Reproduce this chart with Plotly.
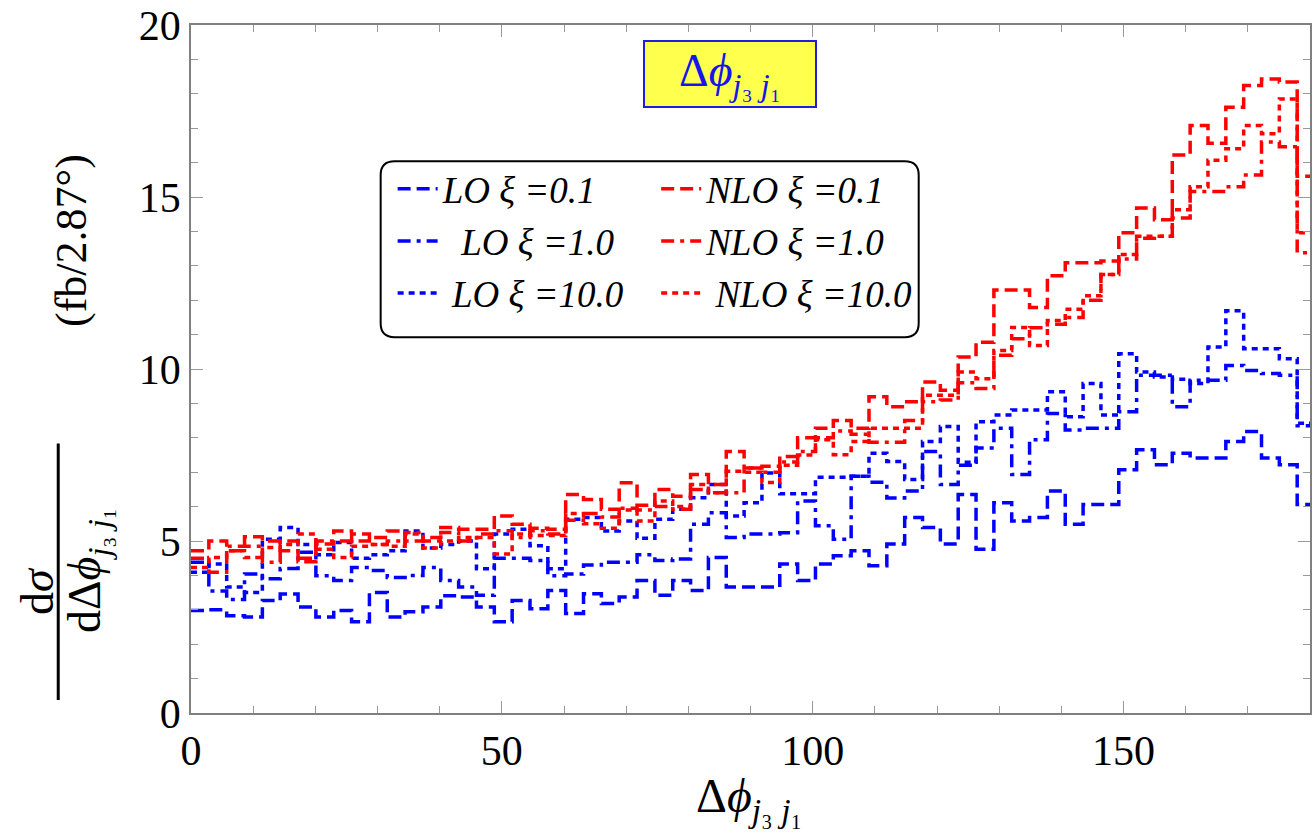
import re
import numpy as np
import plotly.graph_objects as go

# ---------------- data ----------------
BIN_WIDTH = 2.87  # degrees
X_MAX = 180.0

lo_xi01 = [2.98, 3.00, 2.83, 2.79, 3.27, 3.46, 3.08, 2.79, 2.98, 2.65,
           3.50, 2.79, 2.94, 3.08, 3.41, 3.37, 3.08, 2.65, 3.27, 3.03,
           3.56, 2.89, 3.47, 3.18, 3.37, 3.85, 3.42, 3.85, 3.56, 4.52,
           3.66, 3.66, 3.66, 4.33, 3.85, 4.33, 4.57, 4.72, 4.28, 4.91,
           5.68, 5.39, 4.91, 6.35, 4.76, 6.11, 5.58, 5.68, 6.45, 5.49,
           6.06, 6.06, 7.07, 7.65, 7.22, 7.55, 7.41, 7.41, 7.89, 8.18,
           7.41, 7.22, 6.06]

lo_xi1 = [4.38, 3.55, 3.30, 4.04, 3.90, 4.20, 4.67, 3.99, 3.85, 4.23,
          4.14, 3.94, 4.00, 4.23, 3.85, 3.66, 3.42, 4.50, 4.50, 4.43,
          3.99, 4.04, 4.30, 4.38, 4.38, 4.60, 4.43, 4.48, 5.49, 5.82,
          5.10, 5.20, 5.20, 5.24, 6.16, 5.44, 5.05, 6.88, 6.71, 6.25,
          6.45, 7.60, 6.64, 7.20, 7.70, 8.28, 6.93, 7.94, 8.71, 8.23,
          8.28, 8.28, 8.76, 9.82, 9.82, 8.90, 9.67, 9.67, 10.10, 9.96,
          9.87, 9.82, 8.35]

lo_xi10 = [4.09, 4.33, 3.66, 3.50, 5.05, 5.39, 4.90, 4.60, 4.96, 4.50,
           4.60, 4.72, 5.29, 4.80, 4.90, 5.00, 4.19, 5.20, 5.34, 4.86,
           4.19, 5.63, 5.68, 5.29, 5.58, 5.08, 5.63, 5.92, 6.26, 6.64,
           5.73, 6.11, 6.98, 6.37, 6.37, 6.85, 6.85, 6.88, 7.55, 7.31,
           6.79, 7.89, 8.33, 7.29, 8.47, 8.66, 8.81, 8.81, 9.34, 8.61,
           9.58, 8.66, 10.44, 9.91, 9.77, 9.70, 9.58, 10.64, 11.69, 10.59,
           10.59, 10.30, 8.42]

nlo_xi01 = [4.72, 5.00, 4.72, 5.12, 5.00, 4.72, 4.40, 4.91, 5.29, 5.00,
            5.10, 5.29, 5.00, 5.10, 5.39, 5.34, 5.34, 5.73, 5.49, 5.37,
            5.34, 6.35, 6.21, 5.92, 6.69, 6.04, 6.50, 6.30, 6.93, 6.64,
            7.60, 7.12, 7.17, 7.46, 8.00, 8.28, 8.50, 8.28, 9.19, 8.90,
            9.05, 9.62, 9.38, 10.35, 10.78, 12.30, 12.30, 11.79, 12.71, 13.09,
            13.09, 13.14, 13.96, 14.68, 14.34, 16.22, 17.08, 16.56, 17.61, 18.24,
            18.43, 18.34, 15.60]

nlo_xi1 = [4.50, 4.09, 4.85, 4.85, 4.38, 5.00, 4.50, 5.00, 5.00, 5.20,
           4.90, 5.00, 5.25, 5.00, 5.25, 5.00, 5.20, 5.30, 5.10, 5.30,
           5.20, 5.60, 5.80, 5.70, 5.95, 5.90, 6.00, 5.92, 6.50, 6.40,
           6.40, 7.12, 7.00, 7.30, 7.60, 8.00, 8.20, 8.10, 7.87, 7.87,
           8.50, 9.05, 9.10, 9.60, 9.43, 10.40, 10.88, 11.20, 11.30, 11.50,
           12.00, 12.75, 13.20, 13.80, 13.86, 14.39, 15.16, 15.16, 15.30, 15.64,
           16.60, 16.46, 13.38]

nlo_xi10 = [4.23, 4.52, 4.72, 4.52, 4.81, 4.90, 5.20, 4.76, 4.52, 4.85,
            4.90, 4.85, 5.20, 4.80, 5.00, 5.10, 5.10, 4.62, 5.20, 5.16,
            5.16, 5.80, 5.50, 5.37, 5.90, 5.58, 6.16, 6.00, 6.64, 6.40,
            7.03, 7.00, 6.70, 7.20, 7.50, 7.94, 7.51, 7.89, 8.28, 8.28,
            8.28, 9.24, 9.24, 9.91, 9.72, 10.54, 11.21, 10.68, 11.41, 11.74,
            12.13, 12.75, 13.33, 13.86, 13.86, 14.63, 15.30, 16.07, 16.40, 17.08,
            16.84, 17.85, 13.96]

x_ticks = [0, 50, 100, 150]
y_ticks = [0, 5, 10, 15, 20]

# ---------------- figure ----------------
W, H = 1315, 840
ML, MR, MT, MB = 191, 3, 21, 127
PW, PH = W - ML - MR, H - MT - MB


def px(xp):
    return (xp - ML) / PW


def py(yp):
    return (H - MB - yp) / PH


BLUE = "rgb(0,0,255)"
RED = "rgb(255,0,0)"
DASH = "13px,6px"
DASHDOT = "13px,6px,4px,6px"
DOT = "6px,5px"

series = [
    ("<i>LO ξ =0.1</i>", lo_xi01, BLUE, DASH, "legend"),
    ("<i>  LO ξ =1.0</i>", lo_xi1, BLUE, DASHDOT, "legend"),
    ("<i> LO ξ =10.0</i>", lo_xi10, BLUE, DOT, "legend"),
    ("<i>NLO ξ =0.1</i>", nlo_xi01, RED, DASH, "legend2"),
    ("<i>NLO ξ =1.0</i>", nlo_xi1, RED, DASHDOT, "legend2"),
    ("<i> NLO ξ =10.0</i>", nlo_xi10, RED, DOT, "legend2"),
]

fig = go.Figure()
for i, (name, vals, col, dash, lg) in enumerate(series):
    n = len(vals)
    edges = np.arange(n) * BIN_WIDTH
    xs = list(edges) + [X_MAX]
    ys = list(vals) + [vals[-1]]
    fig.add_trace(go.Scatter(
        x=xs, y=ys, mode="lines", name=name,
        line=dict(color=col, width=3.5, dash=dash, shape="hv"),
        legend=lg, legendgroup=f"g{i}",
    ))

serif = "Liberation Serif, Times New Roman, serif"

axis_common = dict(
    showline=True, linecolor="#808080", linewidth=1.5, mirror="ticks",
    ticks="inside", ticklen=12, tickwidth=1, tickcolor="#999999",
    showgrid=False, zeroline=False, ticklabeloverflow="allow",
    tickfont=dict(family=serif, size=42, color="black"),
)

fig.update_xaxes(range=[0, X_MAX], tickvals=x_ticks, ticktext=[str(t) for t in x_ticks],
                 minor=dict(dtick=10, tick0=0, ticklen=7, ticks="inside", tickcolor="#999999"),
                 **axis_common)
fig.update_yaxes(range=[0, 20], tickvals=y_ticks, ticktext=[str(t) for t in y_ticks],
                 minor=dict(dtick=1, tick0=0, ticklen=7, ticks="inside", tickcolor="#999999"),
                 **axis_common)

legend_font = dict(family=serif, size=37, color="black")

fig.update_layout(
    width=W, height=H,
    margin=dict(l=ML, r=MR, t=MT, b=MB),
    plot_bgcolor="white", paper_bgcolor="white",
    showlegend=True,
    legend=dict(x=px(393), y=py(155), xanchor="left", yanchor="top",
                bgcolor="rgba(0,0,0,0)", borderwidth=0, font=legend_font,
                tracegroupgap=1, itemwidth=40),
    legend2=dict(x=px(657), y=py(155), xanchor="left", yanchor="top",
                 bgcolor="rgba(0,0,0,0)", borderwidth=0, font=legend_font,
                 tracegroupgap=1, itemwidth=40),
)


def rpath(xa, ya, xb, yb, rad):
    return (f"M {xa+rad},{ya} L {xb-rad},{ya} Q {xb},{ya} {xb},{ya+rad} "
            f"L {xb},{yb-rad} Q {xb},{yb} {xb-rad},{yb} L {xa+rad},{yb} "
            f"Q {xa},{yb} {xa},{yb-rad} L {xa},{ya+rad} Q {xa},{ya} {xa+rad},{ya} Z")


def topaper(m):
    a, b = float(m.group(1)), float(m.group(2))
    return f"{px(a):.5f},{py(b):.5f}"


# rounded legend frame
fig.add_shape(type="path", xref="paper", yref="paper",
              path=re.sub(r"([\d.]+),([\d.]+)", topaper, rpath(381, 158, 920, 335, 14)),
              line=dict(color="black", width=2), fillcolor="rgba(0,0,0,0)", layer="above")

phi_lbl = "Δ<i>ϕ</i><sub><i>j</i>₃ <i>j</i>₁</sub>"

# title box
fig.add_annotation(xref="paper", yref="paper", x=px(731), y=py(70),
                   text=phi_lbl, width=168, height=62,
                   showarrow=False, font=dict(family=serif, size=46, color="rgb(20,20,235)"),
                   bgcolor="rgb(255,255,77)", bordercolor="rgb(30,30,220)", borderwidth=2,
                   borderpad=1, xanchor="center", yanchor="middle", align="center")

# x-axis title
fig.add_annotation(xref="paper", yref="paper", x=px(750), y=py(800),
                   text=phi_lbl, showarrow=False,
                   font=dict(family=serif, size=48, color="black"),
                   xanchor="center", yanchor="middle")

# y-axis title as a fraction
fig.add_annotation(xref="paper", yref="paper", x=px(37), y=py(590),
                   text="d<i>σ</i>", textangle=-90, showarrow=False,
                   font=dict(family=serif, size=46, color="black"),
                   xanchor="center", yanchor="middle")
fig.add_shape(type="line", xref="paper", yref="paper",
              x0=px(58), x1=px(58), y0=py(442), y1=py(700),
              line=dict(color="black", width=3))
fig.add_annotation(xref="paper", yref="paper", x=px(88), y=py(570),
                   text="dΔ<i>ϕ</i><sub><i>j</i>₃ <i>j</i>₁</sub>", textangle=-90, showarrow=False,
                   font=dict(family=serif, size=46, color="black"),
                   xanchor="center", yanchor="middle")
fig.add_annotation(xref="paper", yref="paper", x=px(72), y=py(238),
                   text="(fb/2.87°)", textangle=-90, showarrow=False,
                   font=dict(family=serif, size=44, color="black"),
                   xanchor="center", yanchor="middle")

fig.write_html("out.html")
